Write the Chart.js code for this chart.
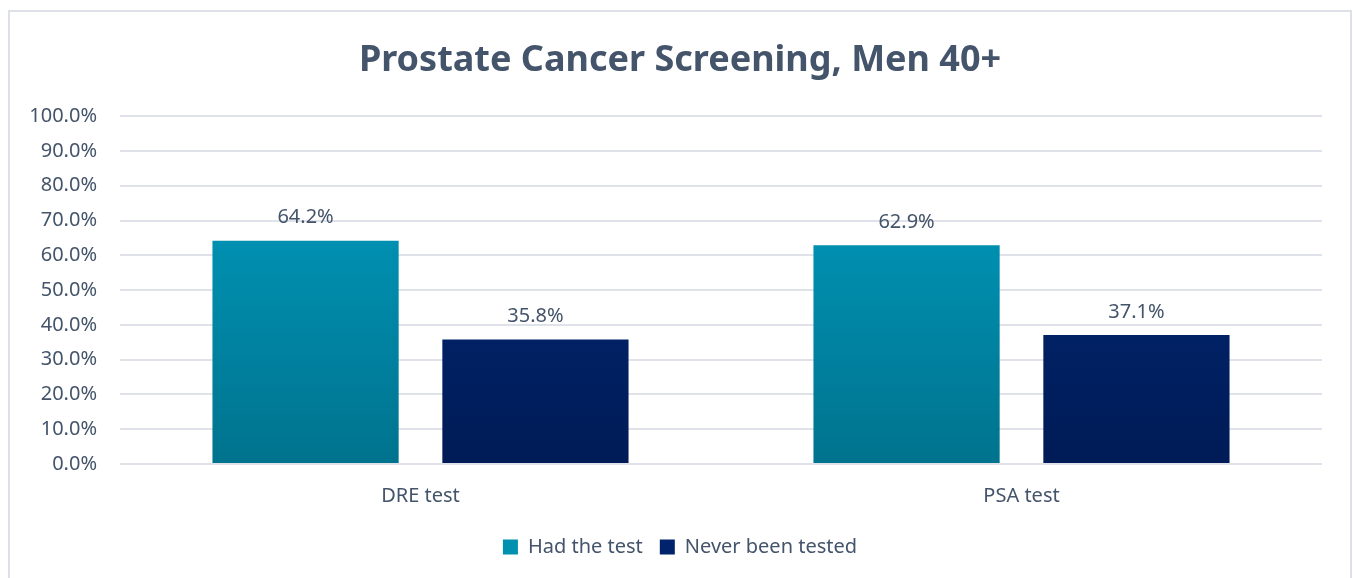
<!DOCTYPE html>
<html>
<head>
<meta charset="utf-8">
<script src="https://cdn.jsdelivr.net/npm/chart.js@4.4.0/dist/chart.umd.min.js"></script>
<style>
  html, body { margin: 0; padding: 0; background: #fff; }
  #frame {
    position: absolute; left: 8px; top: 10px; width: 1344px; height: 580px;
    border: 2px solid #dde0e6; box-sizing: border-box;
  }
  #wrap { position: absolute; left: 10px; top: 12px; width: 1336px; height: 566px; }
</style>
</head>
<body>
<div id="frame"></div>
<div id="wrap"><canvas id="screening-chart"></canvas></div>
<script>
// ---------------------------------------------------------------------------------------
// Prostate cancer screening, men 40+

var categories = ["DRE test", "PSA test"];
var had_test = [64.2, 62.9];
var never_tested = [35.8, 37.1];
var series_names = ["Had the test", "Never been tested"];

var textcolor = "#44546a";
var fontfamily = "'Noto Sans', 'Open Sans', sans-serif";

function barGradient(top, bottom) {
  return function(ctx) {
    var area = ctx.chart.chartArea;
    if (!area) return bottom;
    var g = ctx.chart.ctx.createLinearGradient(0, area.top, 0, area.bottom);
    g.addColorStop(0, top);
    g.addColorStop(1, bottom);
    return g;
  };
}

// labels on top of the bars
var valueLabels = {
  id: 'valueLabels',
  afterDatasetsDraw: function(chart) {
    var c = chart.ctx;
    c.save();
    c.font = "20px " + fontfamily;
    c.fillStyle = textcolor;
    c.textAlign = "center";
    c.textBaseline = "bottom";
    chart.data.datasets.forEach(function(ds, i) {
      chart.getDatasetMeta(i).data.forEach(function(el, j) {
        c.fillText(ds.data[j].toFixed(1) + "%", el.x, el.y - 13);
      });
    });
    c.restore();
  }
};

// title and legend sit centred on the whole frame, not on canvas minus right padding
var centreShift = {
  id: 'centreShift',
  afterLayout: function(chart) {
    var dx = 14;
    if (chart.titleBlock) { chart.titleBlock.left += dx; chart.titleBlock.right += dx; }
    if (chart.legend) { chart.legend.left += dx; chart.legend.right += dx; }
  }
};

new Chart(document.getElementById("screening-chart"), {
    type: 'bar',
    data: {
      labels: categories,
      datasets: [
        {
          label: series_names[0],
          backgroundColor: barGradient("#00a0c4", "#00738e"),
          data: had_test
        },
        {
          label: series_names[1],
          backgroundColor: barGradient("#002b7d", "#001b56"),
          data: never_tested
        }
      ]
    },
    options: {
      responsive: true,
      maintainAspectRatio: false,
      animation: false,
      categoryPercentage: 0.765,
      barPercentage: 0.81,
      layout: {padding: {left: 0, right: 24, top: 0, bottom: 11}},
      scales: {
        x: {
          grid: {display: false},
          border: {display: false},
          ticks: {font: {size: 20, family: fontfamily}, color: textcolor, padding: 12}
        },
        y: {
          min: 0,
          max: 100,
          ticks: {
            stepSize: 10,
            font: {size: 20, family: fontfamily},
            color: textcolor,
            padding: 23,
            callback: function(v) { return v.toFixed(1) + "%"; }
          },
          grid: {color: "#dfe2e8", lineWidth: 2, drawTicks: false},
          border: {display: false},
          afterFit: function(scale) { scale.width = 110; }
        }
      },
      plugins: {
        title: {
          display: true,
          text: 'Prostate Cancer Screening, Men 40+',
          color: textcolor,
          font: {size: 36, weight: 'bold', family: fontfamily},
          padding: {top: 27, bottom: 34}
        },
        legend: {
          position: 'bottom',
          labels: {
            color: textcolor,
            font: {size: 20, family: fontfamily},
            boxWidth: 15,
            boxHeight: 15,
            padding: 17,
            generateLabels: function(chart) {
              var solid = ["#0090b0", "#00236b"];
              return chart.data.datasets.map(function(ds, i) {
                return {text: ds.label, fillStyle: solid[i], strokeStyle: solid[i], lineWidth: 0, datasetIndex: i, fontColor: textcolor};
              });
            }
          }
        },
        tooltip: {enabled: false}
      }
    },
    plugins: [valueLabels, centreShift]
});
</script>
</body>
</html>
